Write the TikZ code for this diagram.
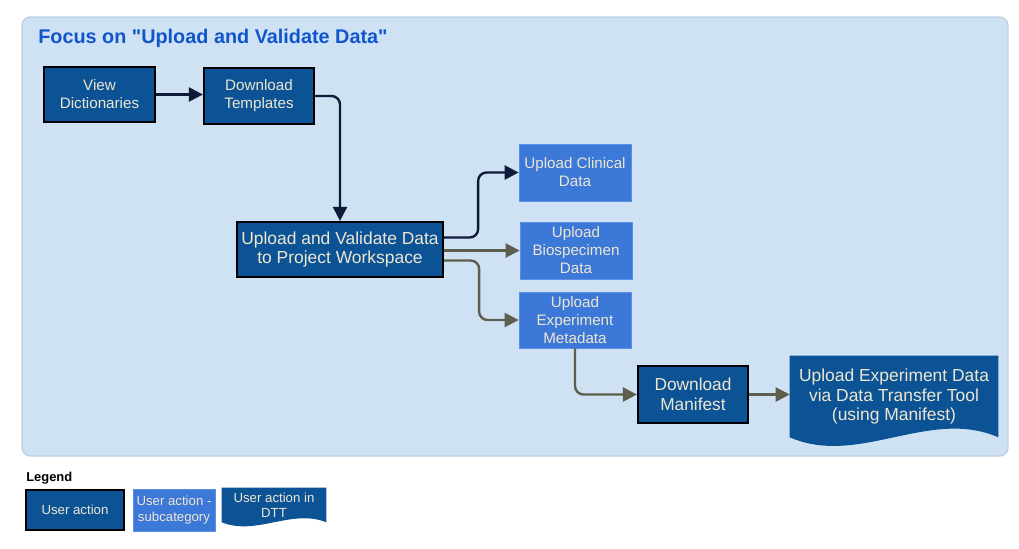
\documentclass[tikz,border=0pt]{standalone}
\usepackage{fontspec}
\setmainfont{Liberation Sans}[Ligatures=TeXOff]
\usetikzlibrary{calc,arrows.meta}
\definecolor{panelfill}{HTML}{CFE2F3}
\definecolor{paneledge}{HTML}{BCD2E4}
\definecolor{titleblue}{HTML}{1155CC}
\definecolor{darkblue}{HTML}{0B5394}
\definecolor{midblue}{HTML}{3C78D8}
\definecolor{midedge}{HTML}{5B8FE3}
\definecolor{cream}{HTML}{EEE6D2}
\definecolor{navyline}{HTML}{0D1B3A}
\definecolor{oliveline}{HTML}{5E5E4C}
\pgfdeclarelayer{background}
\pgfdeclarelayer{backpanel}
\pgfsetlayers{backpanel,background,main}
\def\px{0.025cm}
\tikzset{
  useraction/.style={draw=black, line width=1.6pt, fill=darkblue, text=cream,
    align=center, inner sep=0pt},
  subaction/.style={draw=midedge, line width=0.5pt, fill=midblue, text=cream,
    align=center, inner sep=0pt, font=\fontsize{10.8}{12.8}\selectfont},
  dttaction/.style={text=cream, align=center, inner sep=0pt},
  navyflow/.style={draw=navyline, line width=1.7pt, rounded corners=6pt,
    -{Triangle[length=10pt,width=10pt]}},
  oliveflow/.style={draw=oliveline, line width=1.7pt, rounded corners=6pt,
    -{Triangle[length=10pt,width=10pt]}},
}
% wavy bottom behind a node: #1 node, #2 wave size
\def\dttShape#1#2{
\begin{pgfonlayer}{background}
\fill[darkblue] (#1.south west) -- (#1.north west) -- (#1.north east) -- (#1.south east)
  .. controls ($(#1.south east)!0.33!(#1.south west)+(0,-#2)$)
  and ($(#1.south east)!0.67!(#1.south west)+(0,#2)$) .. (#1.south west) -- cycle;
\end{pgfonlayer}
}

\begin{document}
\begin{tikzpicture}[x=\px, y=-\px]
  \useasboundingbox (0,0) rectangle (1019,548);
  \begin{pgfonlayer}{backpanel}
  \draw[fill=panelfill, draw=paneledge, line width=1pt, rounded corners=6pt] (22,17) rectangle (1008,456);
  \end{pgfonlayer}
  \node[anchor=west, inner sep=0pt, text=titleblue, font=\bfseries\fontsize{14.1}{17}\selectfont] (title) at (38,38)
    {Focus on "Upload and Validate Data"};

  \node[useraction, minimum width=111*\px, minimum height=55*\px, font=\fontsize{10.8}{12.8}\selectfont]
    (view) at (99.5,94.5) {View\\Dictionaries};
  \node[useraction, minimum width=110*\px, minimum height=56*\px, font=\fontsize{10.8}{12.8}\selectfont]
    (templ) at (259,96) {Download\\Templates};
  \node[useraction, minimum width=206*\px, minimum height=55*\px, font=\fontsize{12.4}{14.2}\selectfont]
    (upval) at (340,249.5) {Upload and Validate Data\\to Project Workspace};
  \node[subaction, minimum width=112*\px, minimum height=57*\px] (clin) at (575,172.5) {Upload Clinical\\Data};
  \node[subaction, minimum width=112*\px, minimum height=57*\px] (bio) at (576,250.5) {Upload\\Biospecimen\\Data};
  \node[subaction, minimum width=112*\px, minimum height=56*\px] (meta) at (575,320) {Upload\\Experiment\\Metadata};
  \node[useraction, minimum width=110*\px, minimum height=57*\px, font=\fontsize{12.3}{14.2}\selectfont]
    (manif) at (693,394.5) {Download\\Manifest};
  \node[dttaction, minimum width=208*\px, minimum height=81*\px, font=\fontsize{12.4}{14.2}\selectfont]
    (dtt) at (894,396.5) {Upload Experiment Data\\via Data Transfer Tool\\(using Manifest)};
  \dttShape{dtt}{30}

  \draw[navyflow] (view.east) -- (view.east -| templ.west);
  \draw[navyflow] (templ.east) -| (upval.north);
  \draw[navyflow] ($(upval.east)+(0,-12)$) -- ++(34,0) |- (clin.west);
  \draw[oliveflow] (upval.east |- bio.west) -- (bio.west);
  \draw[oliveflow] ($(upval.east)+(0,11)$) -- ++(35,0) |- (meta.west);
  \draw[oliveflow] (meta.south) |- (manif.west);
  \draw[oliveflow] (manif.east) -- (manif.east -| dtt.west);

  % legend
  \node[anchor=west, inner sep=0pt, font=\bfseries\fontsize{9.2}{11}\selectfont] (legend) at (26,478) {Legend};
  \node[useraction, minimum width=98*\px, minimum height=40*\px, font=\fontsize{9.4}{11.4}\selectfont]
    (keyuser) at (75,510) {User action};
  \node[subaction, minimum width=82*\px, minimum height=42*\px, font=\fontsize{9.4}{11.4}\selectfont]
    (keysub) at (174,510) {User action -\\subcategory};
  \node[dttaction, minimum width=104*\px, minimum height=34*\px, font=\fontsize{9.4}{10.4}\selectfont]
    (keydtt) at (274,505) {User action in\\DTT};
  \dttShape{keydtt}{14}
\end{tikzpicture}
\end{document}
